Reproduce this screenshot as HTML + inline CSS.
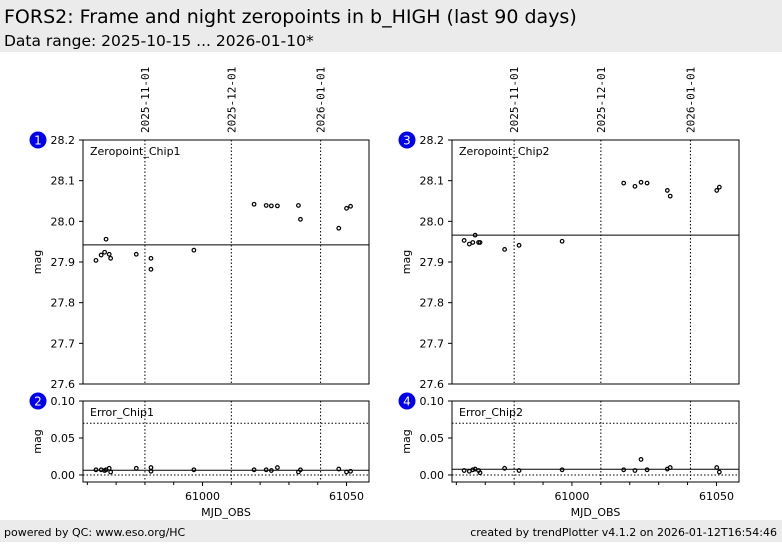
<!DOCTYPE html>
<html><head><meta charset="utf-8"><style>
body{margin:0;width:782px;height:542px;background:#fff;overflow:hidden;font-family:"DejaVu Sans","Liberation Sans",sans-serif;}
svg text{font-family:"DejaVu Sans","Liberation Sans",sans-serif;}
</style></head><body>
<svg id="c" width="782" height="542" xmlns="http://www.w3.org/2000/svg">
<rect x="0" y="0" width="782" height="52" fill="#ebebeb"/>
<text x="4" y="23" font-size="19">FORS2: Frame and night zeropoints in b_HIGH (last 90 days)</text>
<text x="4" y="46" font-size="15.5">Data range: 2025-10-15 ... 2026-01-10*</text>
<rect x="0" y="520" width="782" height="22" fill="#ebebeb"/>
<text x="4" y="536" font-size="11">powered by QC: www.eso.org/HC</text>
<text x="777" y="536" font-size="11" text-anchor="end">created by trendPlotter v4.1.2 on 2026-01-12T16:54:46</text>
<g id="plots"></g>
</svg>
<script>
const dateLabels = ["2025-11-01","2025-12-01","2026-01-01"];
const dateMjd = [60980, 61010, 61041];
const xTicks = [61000, 61050];
const zpTicks = [27.6,27.7,27.8,27.9,28.0,28.1,28.2];
const errTicks = [0.00,0.05,0.10];
const chip1Mjd = [60963.0,60964.8,60966.0,60967.6,60968.1,60966.5,60977.0,60982.1,60982.1,60997.0,61017.9,61022.1,61023.9,61026.0,61033.3,61034.0,61047.3,61050.0,61051.4];
const chip1Zp = [27.904,27.917,27.924,27.919,27.909,27.956,27.919,27.909,27.882,27.929,28.042,28.039,28.038,28.038,28.039,28.005,27.983,28.032,28.037];
const chip1Err = [0.007,0.007,0.006,0.009,0.004,0.007,0.009,0.010,0.005,0.007,0.007,0.007,0.006,0.010,0.004,0.007,0.008,0.004,0.005];
const chip2Mjd = [60962.7,60964.5,60965.7,60966.5,60967.7,60968.2,60976.7,60981.7,60996.6,61017.9,61021.8,61023.9,61026.0,61033.0,61034.0,61050.1,61051.0];
const chip2Zp = [27.953,27.944,27.948,27.966,27.948,27.948,27.931,27.941,27.951,28.094,28.086,28.096,28.094,28.076,28.062,28.076,28.084];
const chip2Err = [0.006,0.005,0.007,0.008,0.006,0.003,0.009,0.006,0.007,0.007,0.006,0.021,0.007,0.008,0.010,0.010,0.004];
const zpMedian = [27.942, 27.966];
const errMedian = [0.0064, 0.0077];
const errLimit = 0.07;

const NS="http://www.w3.org/2000/svg";
const root=document.getElementById('plots');
function el(tag,attrs,parent){const e=document.createElementNS(NS,tag);for(const k in attrs)e.setAttribute(k,attrs[k]);(parent||root).appendChild(e);return e;}
const X0=60958.5, X1=61057.8;

function panel(px, py, w, h, ymin, ymax, ticks, fmt, mjd, vals, median, label, num, isErr){
  const g=el('g',{});
  
  
  const sx=v=>px+(v-X0)/(X1-X0)*w;
  const sy=v=>py+h-(v-ymin)/(ymax-ymin)*h;
  dateMjd.forEach(d=>{el('line',{x1:sx(d),x2:sx(d),y1:py,y2:py+h,stroke:'#000','stroke-width':1,'stroke-dasharray':'1.5,2'},g);});
  if(isErr){
    el('line',{x1:px,x2:px+w,y1:sy(errLimit),y2:sy(errLimit),stroke:'#000','stroke-dasharray':'1.5,2'},g);
    el('line',{x1:px,x2:px+w,y1:sy(0),y2:sy(0),stroke:'#000','stroke-dasharray':'1.5,2'},g);
  }
  const med=el('line',{x1:px,x2:px+w,y1:sy(median),y2:sy(median),stroke:'#000','stroke-width':1},g);
  
  
  el('rect',{x:px,y:py,width:w,height:h,fill:'none',stroke:'#000','stroke-width':1},g);
  ticks.forEach(t=>{const y=sy(t);
    el('line',{x1:px-4,x2:px,y1:y,y2:y,stroke:'#000'},g);
    const tx=el('text',{x:px-8,y:y+4,'font-size':11,'text-anchor':'end'},g);tx.textContent=fmt(t);
    
    });
  const yl=el('text',{x:0,y:0,'font-size':11,'text-anchor':'middle',transform:`translate(${px-42},${py+h/2}) rotate(-90)`},g);
  yl.textContent='mag';
  
  
  const tl=el('text',{x:px+7,y:py+15,'font-size':11},g);tl.textContent=label;
  
  
  const bc=el('circle',{cx:px-45,cy:py,r:8.5,fill:'#0000ee'},g);
  
  
  const bt=el('text',{x:px-45,y:py+4.5,'font-size':12,fill:'#fff','text-anchor':'middle'},g);bt.textContent=num;
  mjd.forEach((m,i)=>{const c=el('circle',{cx:sx(m),cy:sy(vals[i]),r:1.8,fill:'none',stroke:'#000','stroke-width':1.2},g);
    
    });
  if(isErr){
    for(let t=60960;t<=61058;t+=10){el('line',{x1:sx(t),x2:sx(t),y1:py+h,y2:py+h+(t%50===0?4:3),stroke:'#000'},g);}
    xTicks.forEach(t=>{const tx=el('text',{x:sx(t),y:py+h+18,'font-size':11,'text-anchor':'middle'},g);tx.textContent=t;
      
      });
    const xl=el('text',{x:px+w/2,y:py+h+34,'font-size':11,'text-anchor':'middle'},g);xl.textContent='MJD_OBS';
    
    
  } else {
    dateMjd.forEach((d,i)=>{const tx=el('text',{x:0,y:0,'font-size':11,'text-anchor':'start',transform:`translate(${sx(d)+4},${py-7}) rotate(-90)`,style:'font-family:"DejaVu Sans Mono","Liberation Mono",monospace'},g);
      tx.textContent=dateLabels[i];
      
      });
  }
}
const f1=t=>t.toFixed(1), f2=t=>t.toFixed(2);
panel(83,140,286,244,27.6,28.2,zpTicks,f1,chip1Mjd,chip1Zp,zpMedian[0],'Zeropoint_Chip1','1',false);
panel(83,401,286,81,-0.0095,0.10,errTicks,f2,chip1Mjd,chip1Err,errMedian[0],'Error_Chip1','2',true);
panel(452,140,287,244,27.6,28.2,zpTicks,f1,chip2Mjd,chip2Zp,zpMedian[1],'Zeropoint_Chip2','3',false);
panel(452,401,287,81,-0.0095,0.10,errTicks,f2,chip2Mjd,chip2Err,errMedian[1],'Error_Chip2','4',true);
</script>
</body></html>
